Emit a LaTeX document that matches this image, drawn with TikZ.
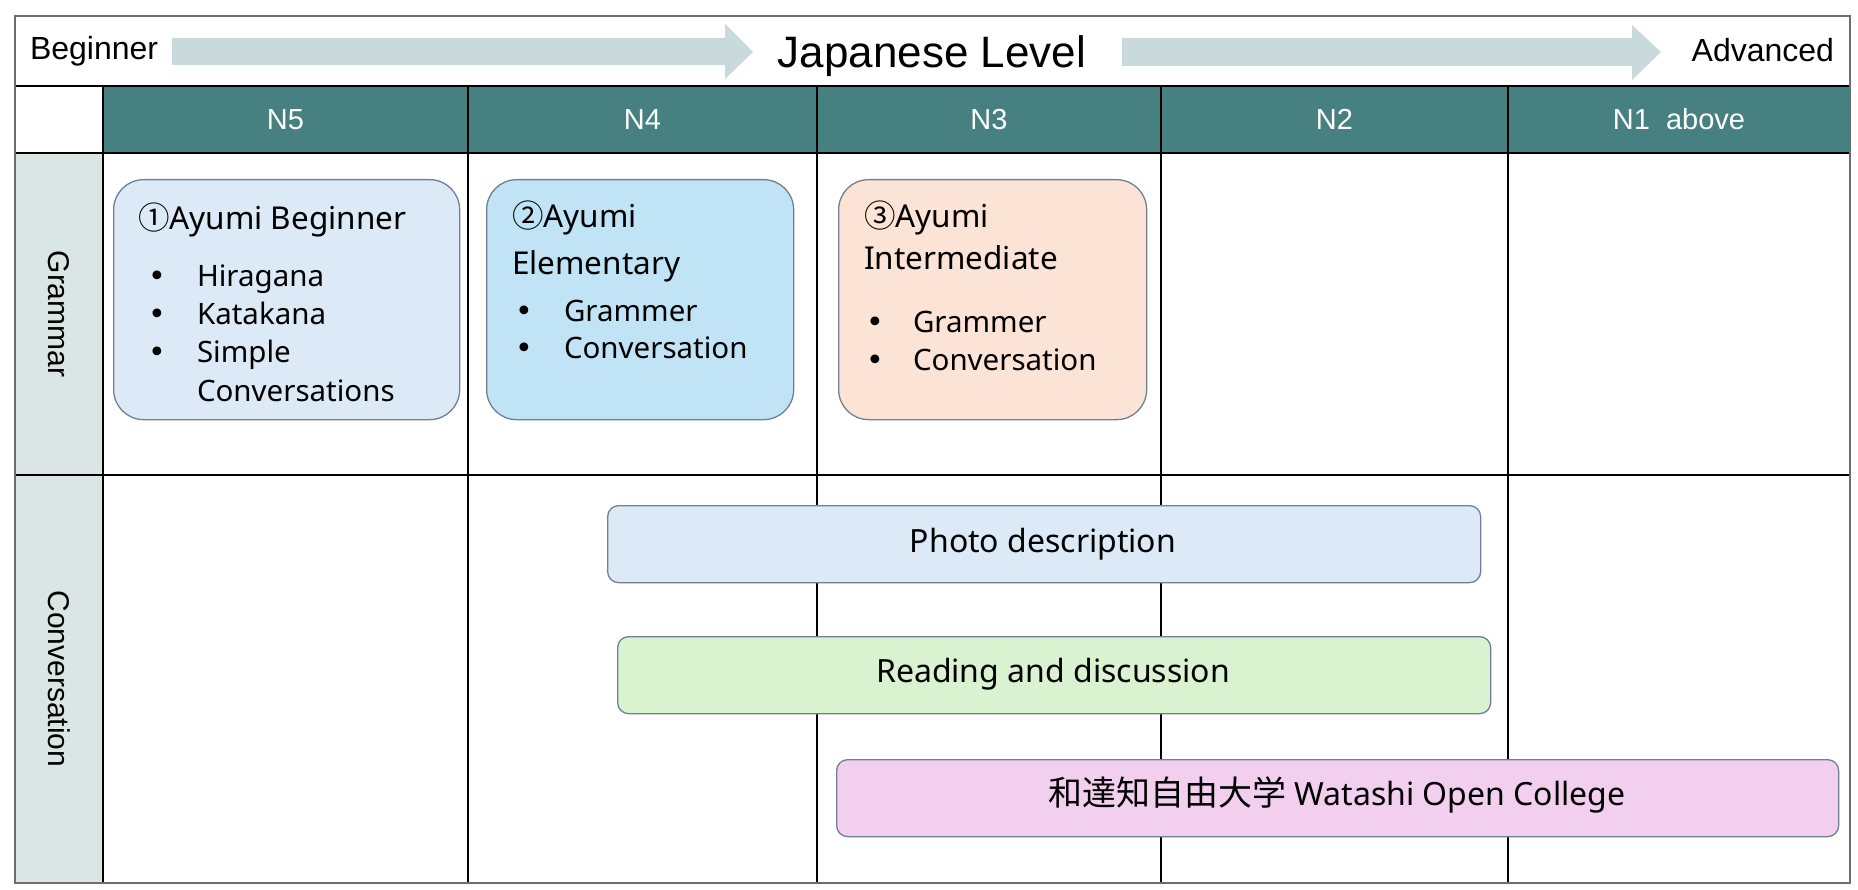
\documentclass[tikz,border=0pt]{standalone}
\usepackage{fontspec}
\setmainfont{Noto Sans}
\newfontfamily\arialf{Liberation Sans}
\newfontfamily\cjkf{Noto Sans CJK JP}
\newfontfamily\dejaf{DejaVu Sans}
\definecolor{hdrteal}{RGB}{71,128,128}
\definecolor{sidegray}{RGB}{218,230,230}
\definecolor{arrowc}{RGB}{200,218,220}
\definecolor{framec}{RGB}{110,110,110}
\definecolor{boxline}{RGB}{112,128,144}
\definecolor{bluea}{RGB}{220,234,247}
\definecolor{blueb}{RGB}{192,228,245}
\definecolor{peach}{RGB}{251,227,214}
\definecolor{greenc}{RGB}{217,242,208}
\definecolor{pinkc}{RGB}{242,207,238}
\tikzset{
  txt/.style={inner sep=0pt, outer sep=0pt},
  gbox/.style={draw=boxline, line width=1.3pt, rounded corners=30pt, anchor=north west, inner sep=0pt},
  cbox/.style={draw=boxline, line width=1.3pt, rounded corners=11pt, anchor=north west, inner sep=0pt, minimum height=77pt},
  titletxt/.style={txt, anchor=base west, font=\fontsize{31.5}{36}\selectfont},
  itemtxt/.style={txt, anchor=base west, font=\fontsize{29.5}{34}\selectfont},
  bultxt/.style={txt, anchor=base west, font=\dejaf\fontsize{30}{34}\selectfont},
  convtxt/.style={txt, anchor=base, font=\fontsize{32}{37}\selectfont},
  hdrtxt/.style={txt, anchor=base, text=white, font=\arialf\fontsize{29}{34}\selectfont},
  toptxt/.style={txt, font=\arialf\fontsize{32}{38}\selectfont},
  sidetxt/.style={txt, rotate=-90, font=\arialf\fontsize{30}{36}\selectfont},
  gridline/.style={draw=black, line width=1.8pt},
  lvlarrow/.style={fill=arrowc}
}
\begin{document}
\begin{tikzpicture}[x=1pt,y=-1pt]
\useasboundingbox (0,0) rectangle (1858,890);
\fill[white] (0,0) rectangle (1858,890);
% fills
\fill[hdrteal] (103,86) rectangle (1850,153);
\fill[sidegray] (15,153) rectangle (103,883);
% level arrows
\fill[lvlarrow] (172,38) -- (725,38) -- (725,24) -- (753,52) -- (725,79) -- (725,65) -- (172,65) -- cycle;
\fill[lvlarrow] (1122,38) -- (1632,38) -- (1632,25) -- (1661,52) -- (1632,80) -- (1632,66) -- (1122,66) -- cycle;
% grid
\draw[gridline] (15,86) -- (1850,86);
\draw[gridline] (15,153) -- (1850,153);
\draw[gridline] (15,475) -- (1850,475);
\foreach \cx in {103,468,817,1161,1508} {
  \draw[gridline] (\cx,86) -- (\cx,883);
}
\draw[draw=framec, line width=1.6pt] (15,16) rectangle (1850,883);
% top texts
\node[toptxt, anchor=base west] (beg) at (30,60) {Beginner};
\node[toptxt, anchor=base east] (adv) at (1834,62) {Advanced};
\node[txt, anchor=base, font=\arialf\fontsize{44}{50}\selectfont] (jl) at (932,68) {Japanese Level};
% header
\node[hdrtxt] (n5) at (285.5,130) {N5};
\node[hdrtxt] (n4) at (642.5,130) {N4};
\node[hdrtxt] (n3) at (989,130) {N3};
\node[hdrtxt] (n2) at (1334.5,130) {N2};
\node[hdrtxt] (n1) at (1679,130) {N1\ \ above};
% side labels
\node[sidetxt] (gram) at (59,314) {Grammar};
\node[sidetxt] (conv) at (59,679) {Conversation};
% grammar boxes
\node[gbox, fill=bluea, minimum width=346pt, minimum height=240pt] (b1) at (113,179) {};
\node[gbox, fill=blueb, minimum width=307pt, minimum height=240pt] (b2) at (486,179) {};
\node[gbox, fill=peach, minimum width=308pt, minimum height=240pt] (b3) at (838,179) {};
% box 1 text
\node[titletxt] (b1t) at (138,230) {{\cjkf ①}Ayumi Beginner};
\node[bultxt] (b1p1) at (148,287) {•};
\node[bultxt] (b1p2) at (148,325) {•};
\node[bultxt] (b1p3) at (148,363) {•};
\node[itemtxt] (b1i1) at (197,287) {Hiragana};
\node[itemtxt] (b1i2) at (197,325) {Katakana};
\node[itemtxt] (b1i3) at (197,363) {Simple};
\node[itemtxt] (b1i4) at (197,402) {Conversations};
% box 2 text
\node[titletxt] (b2t) at (512,228) {{\cjkf ②}Ayumi};
\node[titletxt] (b2u) at (512,275) {Elementary};
\node[bultxt] (b2p1) at (515,322) {•};
\node[bultxt] (b2p2) at (515,359) {•};
\node[itemtxt] (b2i1) at (564,322) {Grammer};
\node[itemtxt] (b2i2) at (564,359) {Conversation};
% box 3 text
\node[titletxt] (b3t) at (864,228) {{\cjkf ③}Ayumi};
\node[titletxt] (b3u) at (864,270) {Intermediate};
\node[bultxt] (b3p1) at (866,333) {•};
\node[bultxt] (b3p2) at (866,371) {•};
\node[itemtxt] (b3i1) at (913,333) {Grammer};
\node[itemtxt] (b3i2) at (913,371) {Conversation};
% conversation boxes
\node[cbox, fill=bluea, minimum width=873pt] (photo) at (607,505) {};
\node[cbox, fill=greenc, minimum width=873pt] (read) at (617,636) {};
\node[cbox, fill=pinkc, minimum width=1002pt] (wat) at (836,759) {};
\node[convtxt] (photot) at (1043,552) {Photo description};
\node[convtxt] (readt) at (1053,682) {Reading and discussion};
\node[convtxt] (watt) at (1337,805) {{\cjkf\fontsize{34}{38}\selectfont 和達知自由大学} Watashi Open College};
\end{tikzpicture}
\end{document}
